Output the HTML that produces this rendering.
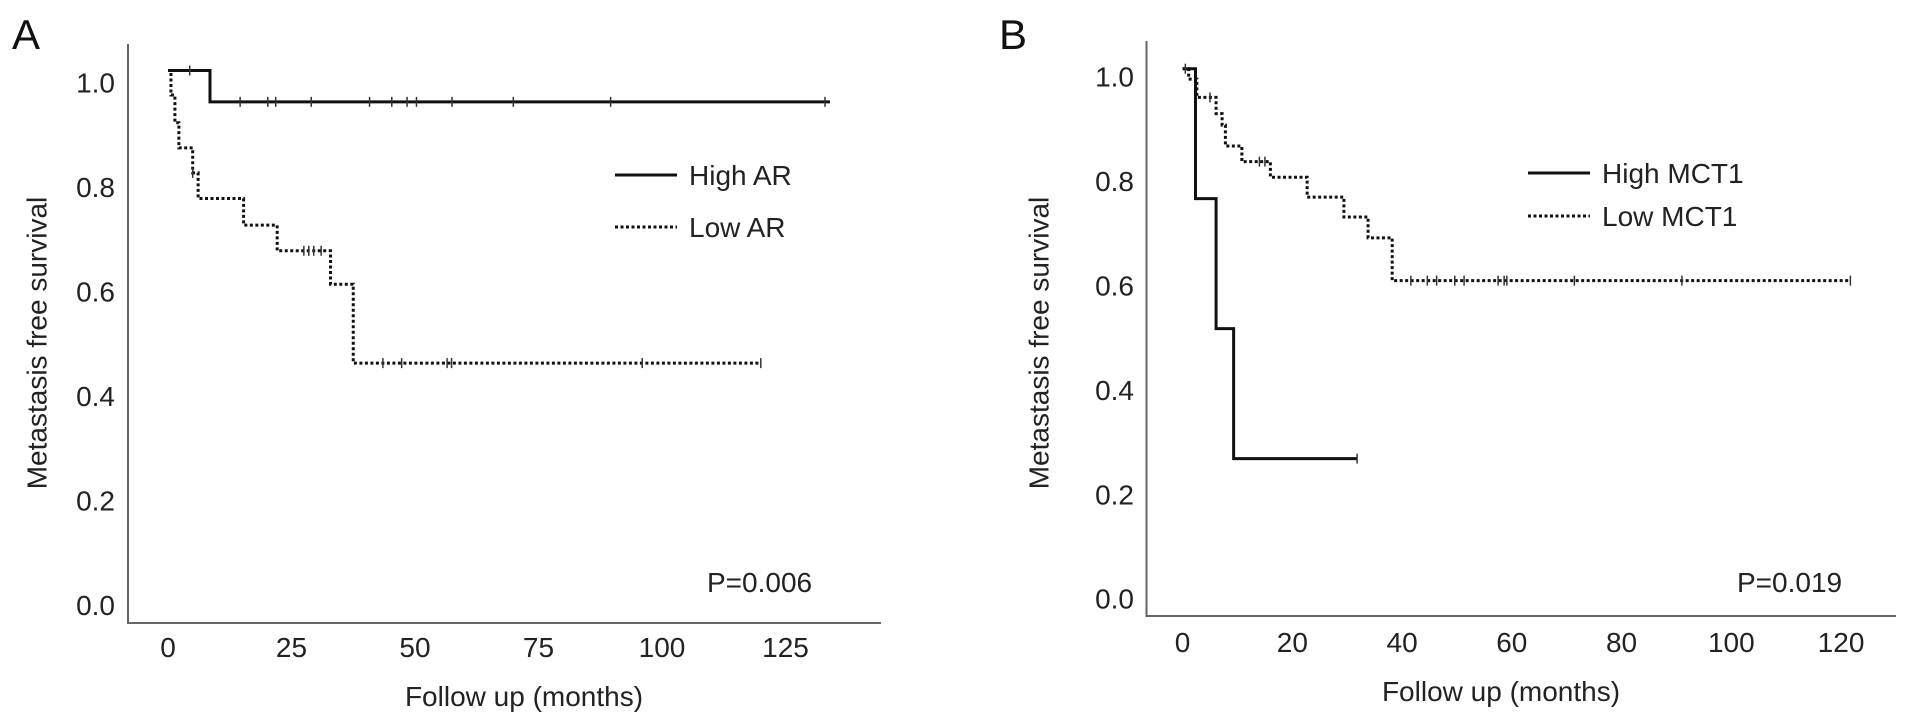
<!DOCTYPE html>
<html><head><meta charset="utf-8"><style>
html,body{margin:0;padding:0;background:#fff;}
svg{display:block;font-family:"Liberation Sans",Arial,sans-serif;}
</style></head><body>
<svg id="fig" width="1913" height="724" viewBox="0 0 1913 724">
</svg>
<script>
// Panel A data
const aTicksX = [0, 25, 50, 75, 100, 125];
const aTicksY = [0.0, 0.2, 0.4, 0.6, 0.8, 1.0];
const aHighT = [0, 8.5, 134];
const aHighS = [1.0, 0.94, 0.94];
const aHighCens = [4.4, 14.6, 20.2, 21.8, 29, 40.8, 45.3, 48.4, 50.3, 57.5, 69.9, 89.6, 133];
const aLowT = [0, 0.6, 1.4, 2.2, 5, 6.1, 15.3, 22.1, 32.9, 37.5, 120];
const aLowS = [1.0, 0.953, 0.90, 0.852, 0.804, 0.755, 0.704, 0.655, 0.591, 0.44, 0.44];
const aLowCens = [5, 27.5, 28.5, 29.5, 31, 43.5, 47.3, 56.5, 57.4, 96, 120];
// Panel B data
const bTicksX = [0, 20, 40, 60, 80, 100, 120];
const bTicksY = [0.0, 0.2, 0.4, 0.6, 0.8, 1.0];
const bHighT = [0, 2.35, 6.1, 9.3, 31.8];
const bHighS = [1.0, 0.751, 0.502, 0.253, 0.253];
const bHighCens = [31.8];
const bLowT = [0, 1.1, 2.6, 6.1, 7.2, 7.8, 10.8, 16, 22.7, 29.4, 33.8, 38.2, 121.7];
const bLowS = [1.0, 0.98, 0.945, 0.914, 0.892, 0.852, 0.822, 0.792, 0.754, 0.716, 0.676, 0.594, 0.594];
const bLowCens = [0.5, 5, 14, 15, 41.6, 44.6, 46.3, 49.6, 51.3, 57.5, 58.6, 59.1, 71.4, 91, 121.7];

const NS = "http://www.w3.org/2000/svg";
const svg = document.getElementById('fig');
function mk(tag, attrs, parent){
  const e = document.createElementNS(NS, tag);
  for (const k in attrs) e.setAttribute(k, attrs[k]);
  (parent||svg).appendChild(e);
  return e;
}
function txt(s, attrs, parent){ const e = mk('text', attrs, parent); e.textContent = s; return e; }

function panel(cfg){
  const g = mk('g', {});
  
  
  const X = t => cfg.x0 + cfg.kx * t;
  const Y = v => cfg.y0 - cfg.ky * v;
  const ya = mk('line', {x1:cfg.ax, y1:cfg.axTop, x2:cfg.ax, y2:cfg.axY, stroke:'#666', 'stroke-width':2}, g);
  
  
  const xa = mk('line', {x1:cfg.ax-1, y1:cfg.axY, x2:cfg.axRight, y2:cfg.axY, stroke:'#666', 'stroke-width':2}, g);
  
  
  cfg.ticksY.forEach(v => {
    const t = txt(v.toFixed(1), {x:cfg.ylabX, y:Y(v)+cfg.ylabOff+10, 'text-anchor':'end', 'font-size':28, fill:'#222'}, g);
    
    
  });
  cfg.ticksX.forEach(v => {
    const t = txt(String(v), {x:X(v), y:cfg.xlabY, 'text-anchor':'middle', 'font-size':28, fill:'#222'}, g);
    
    
  });
  const xt = txt('Follow up (months)', {x:cfg.xtX, y:cfg.xtY, 'text-anchor':'middle', 'font-size':28, fill:'#222'}, g);
  
  
  const yt = txt('Metastasis free survival', {x:0, y:0, transform:`translate(${cfg.ytX},343) rotate(-90)`, 'text-anchor':'middle', 'dominant-baseline':'central', 'font-size':28, fill:'#222'}, g);
  
  
  const lt = txt(cfg.letter, {x:cfg.letX, y:49, 'font-size':42, fill:'#111'}, g);
  
  
  const p = txt(cfg.p, {x:cfg.pX, y:592, 'font-size':28, fill:'#222'}, g);
  
  

  function curve(T, S, cens, dashed, nm){
    let d = `M${X(T[0])},${Y(S[0])}`;
    for (let i=1;i<T.length;i++){ d += ` H${X(T[i])} V${Y(S[i])}`; }
    const path = mk('path', {d:d, fill:'none', stroke:'#111', 'stroke-width':3, 'stroke-dasharray': dashed ? '3,2.5' : 'none'}, g);
    
    
    cens.forEach(c => {
      let s = S[0];
      for (let i=0;i<T.length;i++){ if (T[i] <= c) s = S[i]; }
      const m = mk('line', {x1:X(c), y1:Y(s)-5, x2:X(c), y2:Y(s)+5, stroke:'#333', 'stroke-width':1.5}, g);
      
      
    });
  }
  curve(cfg.hT, cfg.hS, cfg.hC, false, 'high');
  curve(cfg.lT, cfg.lS, cfg.lC, true, 'low');

  const l1 = mk('line', {x1:cfg.legX, y1:cfg.legY1, x2:cfg.legX+62, y2:cfg.legY1, stroke:'#111', 'stroke-width':3}, g);
  
  
  const t1 = txt(cfg.hName, {x:cfg.legX+74, y:cfg.legY1+10, 'font-size':28, fill:'#222'}, g);
  
  
  const l2 = mk('line', {x1:cfg.legX, y1:cfg.legY2, x2:cfg.legX+62, y2:cfg.legY2, stroke:'#111', 'stroke-width':3, 'stroke-dasharray':'3,2.5'}, g);
  
  
  const t2 = txt(cfg.lName, {x:cfg.legX+74, y:cfg.legY2+10, 'font-size':28, fill:'#222'}, g);
  
  
}

panel({name:'panel-a', letter:'A', letX:12, x0:168, kx:4.94, y0:593, ky:522.5,
  ax:128, axTop:44, axY:623, axRight:881, ylabX:115, ylabOff:12, xlabY:657,
  xtX:524, xtY:706, ytX:37, pX:707, p:'P=0.006',
  ticksX:aTicksX, ticksY:aTicksY,
  hT:aHighT, hS:aHighS, hC:aHighCens, lT:aLowT, lS:aLowS, lC:aLowCens,
  legX:615, legY1:175, legY2:227, hName:'High AR', lName:'Low AR'});

panel({name:'panel-b', letter:'B', letX:999, x0:1182.6, kx:5.487, y0:590.7, ky:522,
  ax:1146.5, axTop:41, axY:616, axRight:1896, ylabX:1134, ylabOff:8, xlabY:652,
  xtX:1501, xtY:701, ytX:1039, pX:1737, p:'P=0.019',
  ticksX:bTicksX, ticksY:bTicksY,
  hT:bHighT, hS:bHighS, hC:bHighCens, lT:bLowT, lS:bLowS, lC:bLowCens,
  legX:1528, legY1:173, legY2:216, hName:'High MCT1', lName:'Low MCT1'});
</script>
</body></html>
